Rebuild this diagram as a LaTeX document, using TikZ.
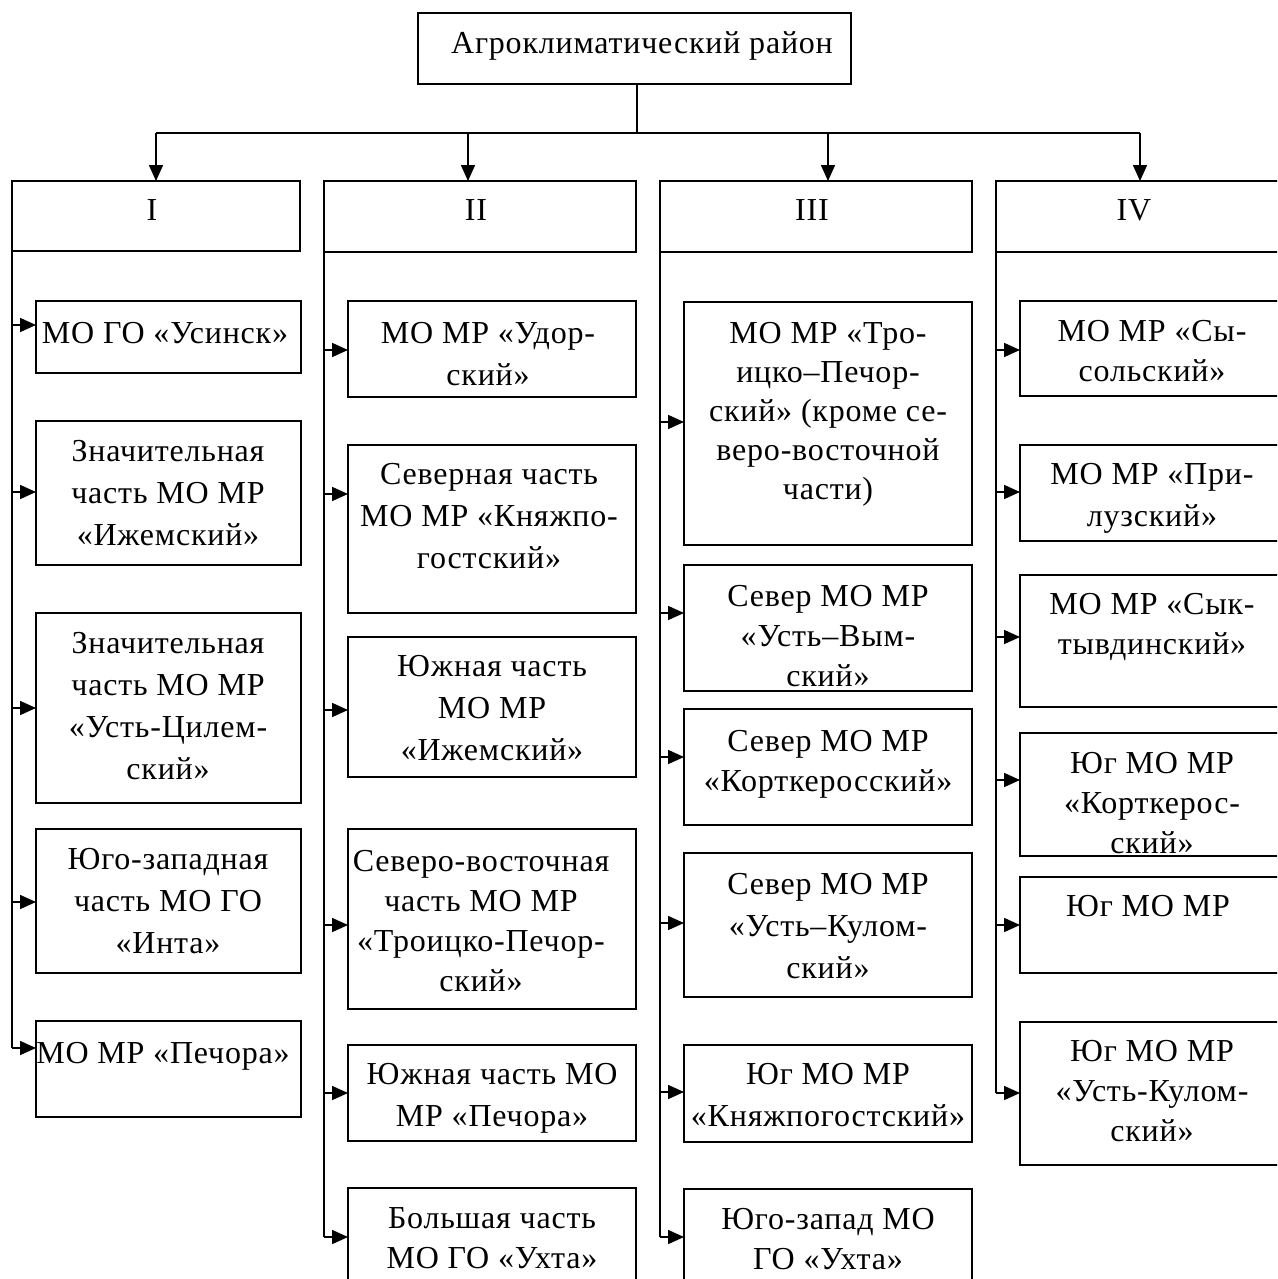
\documentclass[tikz,border=0pt]{standalone}
\usepackage{fontspec}
\setmainfont{Liberation Serif}[LetterSpace=2.5]
\usetikzlibrary{arrows.meta}
\begin{document}
\begin{tikzpicture}[x=1pt,y=-1pt,
  box/.style={draw, line width=1.8pt, anchor=north west, inner sep=0pt, outer sep=0pt},
  txt/.style={anchor=north, align=center, inner sep=0pt, outer sep=0pt, font=\fontsize{32}{42}\selectfont},
  tight/.style={font=\fontsize{32}{40}\selectfont},
  vtight/.style={font=\fontsize{32}{39}\selectfont},
  conn/.style={line width=1.7pt},
  arr/.style={line width=1.7pt, -{Triangle[length=16pt,width=14pt]}}]
\useasboundingbox (0,0) rectangle (1277,1279);
\clip (0,0) rectangle (1277,1279);

% top box
\node[box, minimum width=433pt, minimum height=71pt] (top) at (418,13) {};
\node[txt] (topt) at (642,32) {Агроклиматический район};

% region boxes
\node[box, minimum width=288pt, minimum height=70pt] (rI) at (12,181) {};
\node[box, minimum width=312pt, minimum height=71pt] (rII) at (324,181) {};
\node[box, minimum width=312pt, minimum height=71pt] (rIII) at (660,181) {};
\node[box, minimum width=290pt, minimum height=71pt] (rIV) at (996,181) {};
\node[txt] (rIt) at (152,200) {I};
\node[txt] (rIIt) at (476,200) {II};
\node[txt] (rIIIt) at (812,200) {III};
\node[txt] (rIVt) at (1134,200) {IV};

% tree connectors
\coordinate (hub) at (637,133);
\coordinate (h1) at (156,133);
\coordinate (h2) at (468,133);
\coordinate (h3) at (828,133);
\coordinate (h4) at (1140,133);
\draw[conn] (hub |- top.south) -- (hub);
\draw[conn] (h1) -- (h4);
\draw[arr] (h1) -- (h1 |- rI.north);
\draw[arr] (h2) -- (h2 |- rII.north);
\draw[arr] (h3) -- (h3 |- rIII.north);
\draw[arr] (h4) -- (h4 |- rIV.north);

% column I
\node[box, minimum width=265pt, minimum height=72pt] (i1) at (36,301) {};
\node[box, minimum width=265pt, minimum height=144pt] (i2) at (36,421) {};
\node[box, minimum width=265pt, minimum height=190pt] (i3) at (36,613) {};
\node[box, minimum width=265pt, minimum height=144pt] (i4) at (36,829) {};
\node[box, minimum width=265pt, minimum height=96pt] (i5) at (36,1021) {};
\node[txt] (i1t) at (165,322) {МО ГО «Усинск»};
\node[txt] (i2t) at (168,440) {Значительная\\часть МО МР\\«Ижемский»};
\node[txt] (i3t) at (168,632) {Значительная\\часть МО МР\\«Усть-Цилем-\\ский»};
\node[txt] (i4t) at (168,848) {Юго-западная\\часть МО ГО\\«Инта»};
\node[txt] (i5t) at (163,1042) {МО МР «Печора»};
\coordinate (a1) at (12,325);
\coordinate (a2) at (12,492);
\coordinate (a3) at (12,708);
\coordinate (a4) at (12,902);
\coordinate (a5) at (12,1048);
\draw[conn] (rI.south west) -- (a5);
\draw[arr] (a1) -- (a1 -| i1.west);
\draw[arr] (a2) -- (a2 -| i2.west);
\draw[arr] (a3) -- (a3 -| i3.west);
\draw[arr] (a4) -- (a4 -| i4.west);
\draw[arr] (a5) -- (a5 -| i5.west);

% column II
\node[box, minimum width=288pt, minimum height=96pt] (ii1) at (348,301) {};
\node[box, minimum width=288pt, minimum height=168pt] (ii2) at (348,445) {};
\node[box, minimum width=288pt, minimum height=140pt] (ii3) at (348,637) {};
\node[box, minimum width=288pt, minimum height=180pt] (ii4) at (348,829) {};
\node[box, minimum width=288pt, minimum height=96pt] (ii5) at (348,1045) {};
\node[box, minimum width=288pt, minimum height=120pt] (ii6) at (348,1188) {};
\node[txt] (ii1t) at (488,322) {МО МР «Удор-\\ский»};
\node[txt] (ii2t) at (489,463) {Северная часть\\МО МР «Княжпо-\\гостский»};
\node[txt] (ii3t) at (492,655) {Южная часть\\МО МР\\«Ижемский»};
\node[txt, tight] (ii4t) at (481,850) {Северо-восточная\\часть МО МР\\«Троицко-Печор-\\ский»};
\node[txt] (ii5t) at (492,1063) {Южная часть МО\\МР «Печора»};
\node[txt, tight] (ii6t) at (492,1208) {Большая часть\\МО ГО «Ухта»};
\coordinate (b1) at (324,350);
\coordinate (b2) at (324,494);
\coordinate (b3) at (324,710);
\coordinate (b4) at (324,925);
\coordinate (b5) at (324,1093);
\coordinate (b6) at (324,1237);
\draw[conn] (rII.south west) -- (b6);
\draw[arr] (b1) -- (b1 -| ii1.west);
\draw[arr] (b2) -- (b2 -| ii2.west);
\draw[arr] (b3) -- (b3 -| ii3.west);
\draw[arr] (b4) -- (b4 -| ii4.west);
\draw[arr] (b5) -- (b5 -| ii5.west);
\draw[arr] (b6) -- (b6 -| ii6.west);

% column III
\node[box, minimum width=288pt, minimum height=243pt] (iii1) at (684,302) {};
\node[box, minimum width=288pt, minimum height=126pt] (iii2) at (684,565) {};
\node[box, minimum width=288pt, minimum height=116pt] (iii3) at (684,709) {};
\node[box, minimum width=288pt, minimum height=144pt] (iii4) at (684,853) {};
\node[box, minimum width=288pt, minimum height=97pt] (iii5) at (684,1045) {};
\node[box, minimum width=288pt, minimum height=120pt] (iii6) at (684,1189) {};
\node[txt, vtight] (iii1t) at (828,322) {МО МР «Тро-\\ицко–Печор-\\ский» (кроме се-\\веро-восточной\\части)};
\node[txt, tight] (iii2t) at (828,585) {Север МО МР\\«Усть–Вым-\\ский»};
\node[txt, tight] (iii3t) at (828,730) {Север МО МР\\«Корткеросский»};
\node[txt] (iii4t) at (828,873) {Север МО МР\\«Усть–Кулом-\\ский»};
\node[txt] (iii5t) at (828,1063) {Юг МО МР\\«Княжпогостский»};
\node[txt, tight] (iii6t) at (828,1208) {Юго-запад МО\\ГО «Ухта»};
\coordinate (c1) at (660,422);
\coordinate (c2) at (660,613);
\coordinate (c3) at (660,757);
\coordinate (c4) at (660,923);
\coordinate (c5) at (660,1092);
\coordinate (c6) at (660,1237);
\draw[conn] (rIII.south west) -- (c6);
\draw[arr] (c1) -- (c1 -| iii1.west);
\draw[arr] (c2) -- (c2 -| iii2.west);
\draw[arr] (c3) -- (c3 -| iii3.west);
\draw[arr] (c4) -- (c4 -| iii4.west);
\draw[arr] (c5) -- (c5 -| iii5.west);
\draw[arr] (c6) -- (c6 -| iii6.west);

% column IV
\node[box, minimum width=266pt, minimum height=95pt] (iv1) at (1020,301) {};
\node[box, minimum width=266pt, minimum height=96pt] (iv2) at (1020,445) {};
\node[box, minimum width=266pt, minimum height=132pt] (iv3) at (1020,575) {};
\node[box, minimum width=266pt, minimum height=123pt] (iv4) at (1020,733) {};
\node[box, minimum width=266pt, minimum height=96pt] (iv5) at (1020,877) {};
\node[box, minimum width=266pt, minimum height=143pt] (iv6) at (1020,1022) {};
\node[txt, tight] (iv1t) at (1152,320) {МО МР «Сы-\\сольский»};
\node[txt] (iv2t) at (1152,463) {МО МР «При-\\лузский»};
\node[txt, tight] (iv3t) at (1152,593) {МО МР «Сык-\\тывдинский»};
\node[txt, tight] (iv4t) at (1152,752) {Юг МО МР\\«Корткерос-\\ский»};
\node[txt] (iv5t) at (1148,895) {Юг МО МР};
\node[txt, tight] (iv6t) at (1152,1040) {Юг МО МР\\«Усть-Кулом-\\ский»};
\coordinate (d1) at (996,350);
\coordinate (d2) at (996,492);
\coordinate (d3) at (996,637);
\coordinate (d4) at (996,780);
\coordinate (d5) at (996,925);
\coordinate (d6) at (996,1093);
\draw[conn] (rIV.south west) -- (d6);
\draw[arr] (d1) -- (d1 -| iv1.west);
\draw[arr] (d2) -- (d2 -| iv2.west);
\draw[arr] (d3) -- (d3 -| iv3.west);
\draw[arr] (d4) -- (d4 -| iv4.west);
\draw[arr] (d5) -- (d5 -| iv5.west);
\draw[arr] (d6) -- (d6 -| iv6.west);
\end{tikzpicture}
\end{document}
